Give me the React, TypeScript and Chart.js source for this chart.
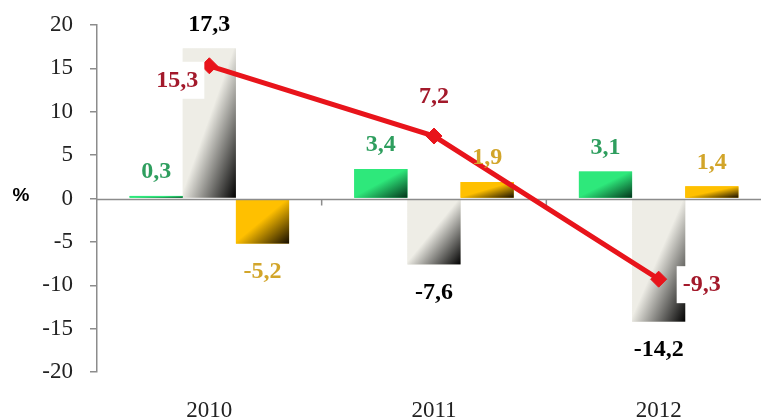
import React, { useEffect, useRef } from "react";
import { Chart, registerables } from "chart.js";

Chart.register(...registerables);

// ---- data ----
const categories = ["2010", "2011", "2012"];
const seriesGreen = [0.3, 3.4, 3.1];
const seriesGray = [17.3, -7.6, -14.2];
const seriesOrange = [-5.2, 1.9, 1.4];
const seriesLine = [15.3, 7.2, -9.3];
const yMin = -20;
const yMax = 20;
const yStep = 5;
const yAxisTitle = "%";

// ---- styles ----
const SERIF = "'Liberation Serif', 'Times New Roman', serif";
const SANS = "'Liberation Sans', Arial, sans-serif";
const AXIS = "#8c8c8c";
const LINE_COLOR = "#E8141B";
const barStyles = [
  { base: "#2EE87B", dark: "#02331A", label: "#2E9E5E" },
  { base: "#EEEDE6", dark: "#000000", label: "#000000" },
  { base: "#FFC000", dark: "#140C00", label: "#D2A52A" },
];
const lineLabelColor = "#A3192B";
// label offsets relative to line points (dx, dy)
const lineLabelOffsets = [
  [-32, 14],
  [0, -40],
  [43, 5],
];

const fmt = (v: number) => v.toFixed(1).replace(".", ",");

const overlayPlugin = {
  id: "overlay",
  afterDatasetDraw(chart: any, args: any) {
    const meta = args.meta;
    if (meta.type !== "bar") return;
    const ctx: CanvasRenderingContext2D = chart.ctx;
    const st = barStyles[args.index - 1];
    ctx.save();
    meta.data.forEach((el: any) => {
      const { x, y, base, width } = el.getProps(["x", "y", "base", "width"], true);
      const left = x - width / 2;
      const top = Math.min(y, base);
      const w = width;
      const h = Math.abs(base - y);
      if (h < 0.5) return;
      const k = (2 * w * h) / (w * w + h * h);
      const g = ctx.createLinearGradient(left, top, left + h * k, top + w * k);
      g.addColorStop(0, st.base);
      g.addColorStop(0.48, st.base);
      g.addColorStop(1, st.dark);
      ctx.fillStyle = g;
      ctx.fillRect(left, top, w, h);
    });
    ctx.restore();

    // after the last bar dataset is drawn (index 1), draw zero line + category ticks
    if (args.index === 1) {
      const { chartArea } = chart;
      const yS = chart.scales.y;
      const xS = chart.scales.x;
      const y0 = Math.round(yS.getPixelForValue(0)) + 0.5;
      ctx.save();
      ctx.strokeStyle = AXIS;
      ctx.lineWidth = 1.5;
      ctx.beginPath();
      ctx.moveTo(chartArea.left, y0);
      ctx.lineTo(chartArea.right, y0);
      for (let i = 1; i <= categories.length; i++) {
        const bx = i < categories.length
          ? (xS.getPixelForValue(i - 1) + xS.getPixelForValue(i)) / 2
          : chartArea.right;
        ctx.moveTo(bx, y0);
        ctx.lineTo(bx, y0 + 6);
      }
      ctx.stroke();
      ctx.restore();
    }
  },
  afterDatasetsDraw(chart: any) {
    const ctx: CanvasRenderingContext2D = chart.ctx;
    ctx.save();
    ctx.font = `bold 24px ${SERIF}`;
    ctx.textAlign = "center";
    ctx.textBaseline = "middle";
    // bar labels
    [1, 2, 3].forEach((di) => {
      const meta = chart.getDatasetMeta(di);
      const vals = chart.data.datasets[di].data as number[];
      meta.data.forEach((el: any, i: number) => {
        const { x, y } = el.getProps(["x", "y"], true);
        const v = vals[i];
        const ty = v >= 0 ? y - 24 : y + 28;
        ctx.fillStyle = barStyles[di - 1].label;
        ctx.fillText(fmt(v), x, ty);
      });
    });
    // line labels with white boxes
    const lmeta = chart.getDatasetMeta(0);
    lmeta.data.forEach((el: any, i: number) => {
      const { x, y } = el.getProps(["x", "y"], true);
      const [dx, dy] = lineLabelOffsets[i];
      const txt = fmt(seriesLine[i]);
      const tw = ctx.measureText(txt).width;
      const cx = x + dx;
      const cy = y + dy;
      ctx.fillStyle = "#ffffff";
      ctx.fillRect(cx - tw / 2 - 6, cy - 18, tw + 12, 37);
      ctx.fillStyle = lineLabelColor;
      ctx.fillText(txt, cx, cy + 1);
    });
    // axis title
    ctx.font = `bold 19px ${SANS}`;
    ctx.fillStyle = "#000";
    ctx.fillText(yAxisTitle, 21, chart.scales.y.getPixelForValue(0) - 3);
    ctx.restore();
  },
};

export default function App() {
  const ref = useRef<HTMLCanvasElement>(null);
  useEffect(() => {
    document.body.style.margin = "0";
    document.body.style.overflow = "hidden";
    const canvas = ref.current!;
    const chart = new Chart(canvas, {
      type: "bar",
      data: {
        labels: categories,
        datasets: [
          {
            type: "line",
            data: seriesLine,
            borderColor: LINE_COLOR,
            borderWidth: 5,
            pointStyle: "rectRot",
            pointRadius: 8,
            pointBackgroundColor: LINE_COLOR,
            pointBorderColor: LINE_COLOR,
            pointBorderWidth: 1,
            fill: false,
            tension: 0,
          } as any,
          { data: seriesGreen, backgroundColor: barStyles[0].base, borderWidth: 0, categoryPercentage: 0.71, barPercentage: 1 },
          { data: seriesGray, backgroundColor: barStyles[1].base, borderWidth: 0, categoryPercentage: 0.71, barPercentage: 1 },
          { data: seriesOrange, backgroundColor: barStyles[2].base, borderWidth: 0, categoryPercentage: 0.71, barPercentage: 1 },
        ],
      },
      options: {
        responsive: false,
        animation: false,
        devicePixelRatio: 1,
        layout: { padding: { left: 0, top: 25, right: 9, bottom: 0 } },
        plugins: { legend: { display: false }, tooltip: { enabled: false } },
        scales: {
          x: {
            grid: { display: false, drawTicks: false },
            border: { display: false },
            ticks: { font: { family: SERIF, size: 23 }, color: "#222", padding: 25 },
            afterFit: (s: any) => {
              s.height = 47;
              s.paddingLeft = 0;
              s.paddingRight = 0;
            },
          },
          y: {
            min: yMin,
            max: yMax,
            ticks: { stepSize: yStep, font: { family: SERIF, size: 23 }, color: "#222", padding: 17 },
            grid: { drawOnChartArea: false, tickLength: 7, color: AXIS, lineWidth: 1.5 },
            border: { color: AXIS, width: 1.5 },
            afterFit: (s: any) => {
              s.width = 97;
              s.paddingTop = 0;
              s.paddingBottom = 0;
            },
          },
        },
      },
      plugins: [overlayPlugin],
    });
    return () => chart.destroy();
  }, []);
  return (
    <div style={{ width: 780, height: 419 }}>
      <canvas ref={ref} width={780} height={419} style={{ display: "block" }} />
    </div>
  );
}
